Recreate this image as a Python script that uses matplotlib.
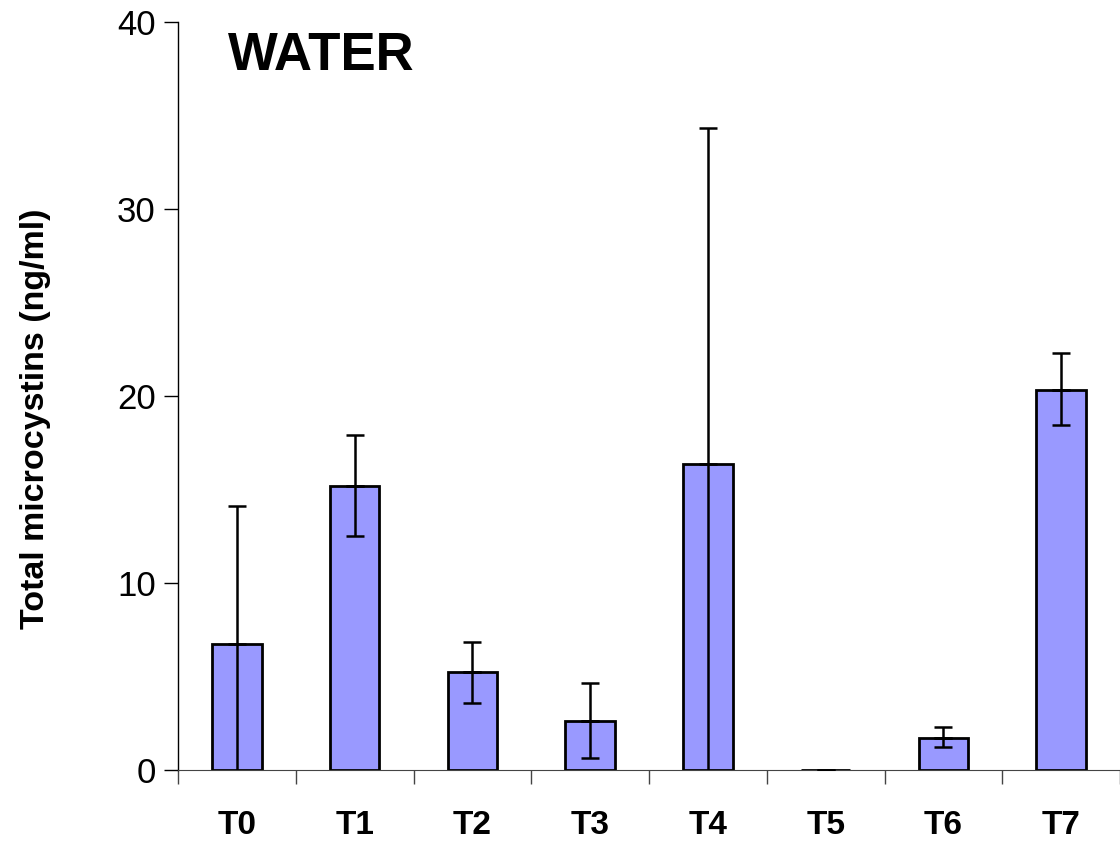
import matplotlib.pyplot as plt
import numpy as np

plt.rcParams['font.family'] = ['Liberation Sans', 'DejaVu Sans']

labels = ["T0", "T1", "T2", "T3", "T4", "T5", "T6", "T7"]
means = [6.74, 15.2, 5.24, 2.62, 16.36, 0.0, 1.7, 20.3]
err_hi = [14.1, 17.9, 6.84, 4.65, 34.3, 0.0, 2.3, 22.3]
err_lo = [0.0, 12.5, 3.58, 0.64, 0.0, 0.0, 1.23, 18.45]

x = np.arange(len(labels))
means = np.array(means)
up = np.array(err_hi) - means
down = means - np.array(err_lo)

fig = plt.figure(figsize=(11.2, 8.41), dpi=100)
ax = fig.add_axes([0.159, 0.0844, 0.841, 0.8896])

ax.bar(x, means, width=0.42, color="#9999FF", edgecolor="black", linewidth=2, zorder=2)

# upper whiskers with caps
ax.errorbar(x, means, yerr=[np.zeros_like(up), up], fmt="none", ecolor="black",
            elinewidth=1.8, capsize=6.5, capthick=1.8, zorder=3)
# lower whiskers, capped only where they don't reach zero
clipped = np.array(err_lo) <= 0
ax.errorbar(x[~clipped], means[~clipped], yerr=[down[~clipped], np.zeros((~clipped).sum())],
            fmt="none", ecolor="black", elinewidth=1.8, capsize=6.5, capthick=1.8, zorder=3)
ax.errorbar(x[clipped], means[clipped], yerr=[down[clipped], np.zeros(clipped.sum())],
            fmt="none", ecolor="black", elinewidth=1.8, capsize=0, zorder=3)

ax.set_xlim(-0.5, 7.5)
ax.set_ylim(0, 40)
ax.set_yticks([0, 10, 20, 30, 40])
ax.tick_params(axis="y", direction="out", length=10, width=1, labelsize=25, pad=6)
ax.set_xticks(np.arange(-0.5, 8, 1), minor=False)
ax.set_xticklabels([])
ax.tick_params(axis="x", direction="out", length=10, width=1, color="#444444")
ax.set_xticks(x, minor=True)
ax.set_xticklabels(labels, minor=True, fontsize=24, fontweight="bold")
ax.tick_params(axis="x", which="minor", length=0, pad=29)

for s in ["top", "right"]:
    ax.spines[s].set_visible(False)
ax.spines["bottom"].set_color("#444444")
ax.spines["left"].set_linewidth(1)

ax.set_ylabel("Total microcystins (ng/ml)", fontsize=24.5, fontweight="bold")
ax.yaxis.set_label_coords(-0.135, 0.47)
ax.text(0.053, 0.955, "WATER", transform=ax.transAxes, fontsize=38, fontweight="bold",
        va="center", ha="left")

fig.savefig("out.png", dpi=100)
